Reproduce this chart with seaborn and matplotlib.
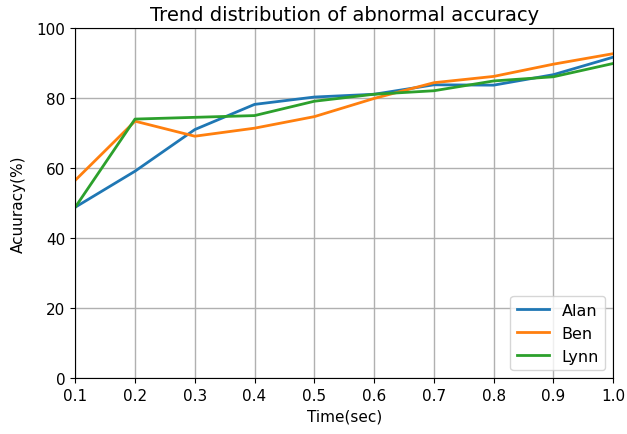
import pandas as pd
import matplotlib
matplotlib.use("Agg")
import matplotlib.pyplot as plt
import seaborn as sns

# 数据
times = [0.1, 0.2, 0.3, 0.4, 0.5, 0.6, 0.7, 0.8, 0.9, 1.0]
alan = [48.8, 59.1, 71.0, 78.2, 80.3, 81.1, 83.8, 83.7, 86.7, 91.7]
ben = [56.5, 73.4, 69.1, 71.4, 74.7, 79.9, 84.4, 86.2, 89.7, 92.7]
lynn = [48.8, 74.0, 74.5, 75.0, 79.1, 81.1, 82.1, 84.9, 86.1, 89.9]
names = ['Alan', 'Ben', 'Lynn']

df = pd.DataFrame({
    'Time(sec)': times * 3,
    'Accuracy': alan + ben + lynn,
    'Name': [n for n in names for _ in times],
})

plt.rcParams['font.family'] = ['DejaVu Sans']

fig = plt.figure(figsize=(6.27, 4.35), dpi=100)
ax = fig.add_axes([0.12, 0.129, 0.858, 0.804])

sns.lineplot(data=df, x='Time(sec)', y='Accuracy', hue='Name',
             palette=['#1f77b4', '#ff7f0e', '#2ca02c'], linewidth=2, ax=ax)

ax.set_xlim(0.1, 1.0)
ax.set_ylim(0, 100)
ax.set_xticks(times)
ax.grid(True, color='#b0b0b0', linewidth=1)
ax.set_title('Trend distribution of abnormal accuracy', fontsize=14)
ax.set_xlabel('Time(sec)', fontsize=11)
ax.set_ylabel('Acuuracy(%)', fontsize=11, labelpad=8)
ax.tick_params(labelsize=11)
ax.legend(loc='lower right', fontsize=11.5, title=None)

fig.savefig('out.png', dpi=100)
